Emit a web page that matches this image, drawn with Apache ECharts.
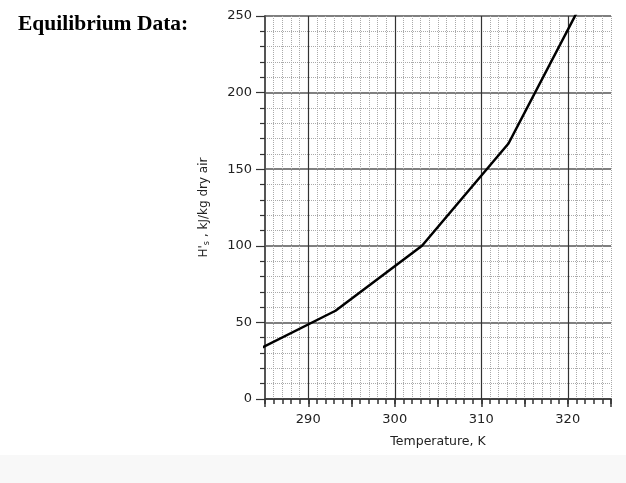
<!DOCTYPE html>
<html>
<head>
<meta charset="utf-8">
<script src="https://cdn.jsdelivr.net/npm/echarts@6/dist/echarts.min.js"></script>
<style>
html,body{margin:0;padding:0;background:#fff;}
#chart{width:626px;height:483px;}
</style>
</head>
<body>
<div id="chart"></div>
<script>
const temperatures = [283.15, 293.15, 303.15, 313.15, 323.15];
const enthalpies = [29.3, 57.6, 100.0, 166.8, 275.0];
const xTickLabels = [290, 300, 310, 320];
const yTickLabels = [0, 50, 100, 150, 200, 250];

const chart = echarts.init(document.getElementById('chart'), null, {renderer: 'canvas'});
const font = 'DejaVu Sans';
const option = {
  backgroundColor: '#ffffff',
  animation: false,
  graphic: [
    {type: 'rect', left: 0, top: 455, shape: {width: 626, height: 28}, style: {fill: '#f8f8f8'}, z: -10},
    {type: 'text', left: 18, top: 13, style: {text: 'Equilibrium Data:', font: 'bold 21.5px "Liberation Serif"', fill: '#000'}}
  ],
  grid: {left: 265, right: 15, top: 16, bottom: 84, containLabel: false},
  xAxis: [{
    type: 'value', min: 285, max: 325, interval: 1,
    name: 'Temperature, K', nameLocation: 'middle', nameGap: 36,
    nameTextStyle: {fontFamily: font, fontSize: 12.5, color: '#222'},
    axisLine: {show: true, lineStyle: {color: '#333', width: 1.5}},
    axisTick: {show: true, length: 5, lineStyle: {color: '#333', width: 1.5}},
    axisLabel: {fontFamily: font, fontSize: 13, color: '#222', margin: 14, showMinLabel: true, showMaxLabel: true,
      hideOverlap: false, interval: 0,
      formatter: v => xTickLabels.includes(Math.round(v)) ? String(Math.round(v)) : ''},
    splitLine: {show: true, lineStyle: {color: '#aaa', width: 1, type: [1, 1]}}
  }, {
    type: 'value', min: 285, max: 325, interval: 5, position: 'bottom',
    axisLine: {show: false},
    axisTick: {show: true, length: 8, lineStyle: {color: ['transparent', '#333'], width: 1.5}},
    axisLabel: {show: false},
    splitLine: {show: true, lineStyle: {color: ['transparent', '#333'], width: 1.2}}
  }],
  yAxis: {
    type: 'value', min: 0, max: 250, interval: 50,
    name: "{a|H'}{b|s}{a| , kJ/kg dry air}", nameLocation: 'middle', nameGap: 54, nameRotate: 90,
    nameTextStyle: {rich: {
      a: {fontFamily: font, fontSize: 12, color: '#222'},
      b: {fontFamily: font, fontSize: 8, color: '#222', padding: [6, 0, 0, 0]}
    }},
    axisLine: {show: true, lineStyle: {color: '#555', width: 2}},
    axisTick: {show: true, length: 9, lineStyle: {color: '#333', width: 1.2}},
    minorTick: {show: true, splitNumber: 5, length: 5, lineStyle: {color: '#333', width: 1.2}},
    axisLabel: {fontFamily: font, fontSize: 13, color: '#222', margin: 13,
      formatter: v => yTickLabels.includes(v) ? String(v) : ''},
    splitLine: {show: true, lineStyle: {color: '#555', width: 1.5}},
    minorSplitLine: {show: true, lineStyle: {color: '#aaa', width: 1, type: [1, 1]}}
  },
  series: [{
    type: 'line',
    data: temperatures.map((t, i) => [t, enthalpies[i]]),
    showSymbol: false,
    clip: true,
    lineStyle: {color: '#000', width: 2.5},
    z: 10
  }]
};
chart.setOption(option);
</script>
</body>
</html>
